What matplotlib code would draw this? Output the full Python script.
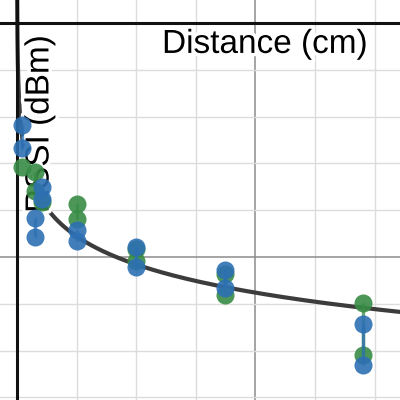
'''
RSSI versus distance with a log-distance path loss fit.
'''

import numpy as np
import matplotlib.pyplot as plt
import matplotlib.patheffects as pe
from matplotlib.ticker import MultipleLocator


# measured points (distance in cm, RSSI in dBm)
BLUE_X = [0.39, 0.39, 2.1, 2.1, 1.51, 1.51, 5.0, 5.0, 10.0, 10.0,
          17.45, 17.45, 29.05, 29.05]
BLUE_Y = [-21.8, -26.7, -35.0, -37.6, -41.7, -45.7, -44.2, -46.6, -47.9,
          -52.1, -52.8, -56.6, -64.3, -73.1]
GREEN_X = [0.39, 1.51, 1.51, 2.1, 5.0, 5.0, 10.0, 10.0, 17.45, 17.45,
           29.05, 29.05]
GREEN_Y = [-30.8, -31.8, -35.9, -38.2, -38.7, -41.9, -48.3, -50.9, -53.6,
           -58.1, -59.8, -70.9]

# fit: RSSI = A - 10 n log10(d)
FIT_A = -31.6
FIT_N = 2.0

X_LABEL = 'Distance (cm)'
Y_LABEL = 'RSSI (dBm)'

BLUE = '#2d70b3'
GREEN = '#388c46'


def rssi(distance, a, n) -> np.ndarray:
    '''
    Log-distance path loss model.
    '''
    return a - 10 * n * np.log10(distance)


def draw_series(ax, xs, ys, color, zorder) -> None:
    '''
    Points plus a vertical bar joining the points taken at one distance.
    '''
    for x in sorted(set(xs)):
        group = [y for xx, y in zip(xs, ys) if xx == x]
        if len(group) > 1:
            ax.vlines(x, min(group), max(group), color=color, lw=2.4,
                      alpha=0.75, zorder=zorder)
    ax.plot(xs, ys, 'o', ms=13, mew=0, color=color, alpha=0.9,
            zorder=zorder + 0.5, linestyle='none')


def main() -> None:
    fig = plt.figure(figsize=(4, 4), dpi=100)
    ax = fig.add_axes([0, 0, 1, 1])
    ax.set_xlim(-1.426, 32.13)
    ax.set_ylim(-80.56, 4.91)

    ax.xaxis.set_major_locator(MultipleLocator(20))
    ax.xaxis.set_minor_locator(MultipleLocator(5))
    ax.yaxis.set_major_locator(MultipleLocator(50))
    ax.yaxis.set_minor_locator(MultipleLocator(10))
    ax.grid(which='minor', color='#dcdcdc', lw=1.0, zorder=0)
    ax.grid(which='major', color='#8c8c8c', lw=1.1, zorder=0.5)
    ax.tick_params(which='both', length=0, labelbottom=False,
                   labelleft=False)
    for spine in ax.spines.values():
        spine.set_visible(False)
    ax.set_axisbelow(True)

    d = np.geomspace(0.01, 34, 1500)
    ax.plot(d, rssi(d, FIT_A, FIT_N), color='#3c3c3c', lw=3.0, zorder=1)

    ax.axhline(0, color='#111111', lw=2.2, zorder=2)
    ax.axvline(0, color='#111111', lw=2.2, zorder=2)

    halo = [pe.withStroke(linewidth=5, foreground='white')]
    ax.text(29.45, -6.4, X_LABEL, ha='right', va='baseline', fontsize=24,
            family='Liberation Sans', zorder=3, path_effects=halo)
    ax.text(2.64, -40.6, Y_LABEL, rotation=90, rotation_mode='anchor',
            ha='left', va='baseline', fontsize=24,
            family='Liberation Sans', zorder=3, path_effects=halo)

    draw_series(ax, GREEN_X, GREEN_Y, GREEN, zorder=4)
    draw_series(ax, BLUE_X, BLUE_Y, BLUE, zorder=5)

    fig.savefig('out.png', dpi=100)


if __name__ == "__main__":
    main()
